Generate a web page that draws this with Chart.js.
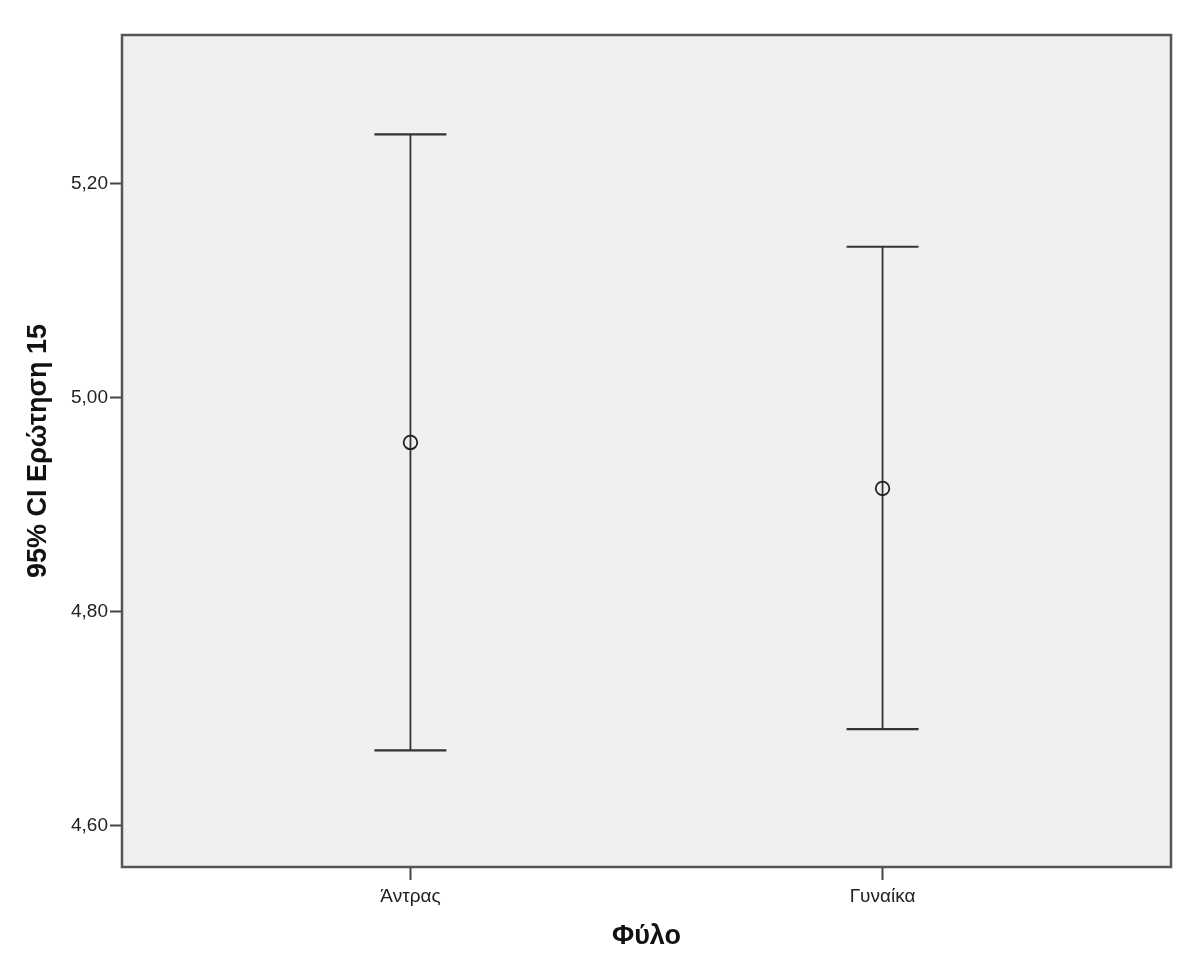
<!DOCTYPE html>
<html><head><meta charset="utf-8">
<script src="https://cdn.jsdelivr.net/npm/chart.js@4/dist/chart.umd.min.js"></script>
<style>html,body{margin:0;padding:0;background:#fff}#wrap{width:1200px;height:974px;position:relative}</style>
</head><body><div id="wrap"><canvas id="c"></canvas></div>
<script>
const categories = ['Άντρας', 'Γυναίκα'];
const means = [4.958, 4.915];
const lowerCI = [4.670, 4.690];
const upperCI = [5.246, 5.141];
const yTicks = [4.60, 4.80, 5.00, 5.20];
const yTitle = '95% CI Ερώτηση 15';
const xTitle = 'Φύλο';

const FONT = "'Liberation Sans', Arial, sans-serif";

const framePlugin = {
  id: 'frame',
  beforeDraw(chart) {
    const {ctx, chartArea: a} = chart;
    ctx.save();
    ctx.fillStyle = '#f0f0f0';
    ctx.fillRect(a.left, a.top, a.right - a.left, a.bottom - a.top);
    ctx.restore();
  },
  beforeDatasetsDraw(chart) {
    const {ctx} = chart;
    const xs = chart.scales.x, ys = chart.scales.y;
    ctx.save();
    ctx.strokeStyle = '#333';
    categories.forEach((c, i) => {
      const x = xs.getPixelForValue(i);
      const yl = ys.getPixelForValue(lowerCI[i]);
      const yu = ys.getPixelForValue(upperCI[i]);
      ctx.lineWidth = 1.8;
      ctx.beginPath();
      ctx.moveTo(x, yl); ctx.lineTo(x, yu);
      ctx.stroke();
      ctx.lineWidth = 2.2;
      ctx.beginPath();
      ctx.moveTo(x - 36, yu); ctx.lineTo(x + 36, yu);
      ctx.moveTo(x - 36, yl); ctx.lineTo(x + 36, yl);
      ctx.stroke();
    });
    ctx.restore();
  },
  afterDraw(chart) {
    const {ctx, chartArea: a} = chart;
    ctx.save();
    ctx.strokeStyle = '#555';
    ctx.lineWidth = 2.5;
    ctx.strokeRect(a.left, a.top, a.right - a.left, a.bottom - a.top);
    ctx.restore();
  }
};

new Chart(document.getElementById('c'), {
  type: 'scatter',
  data: {
    datasets: [{
      data: categories.map((c, i) => ({x: i, y: means[i]})),
      pointRadius: 6.8,
      pointHoverRadius: 6.8,
      pointBorderWidth: 1.8,
      pointBorderColor: '#222',
      pointBackgroundColor: 'rgba(0,0,0,0)',
      showLine: false
    }]
  },
  options: {
    responsive: true,
    maintainAspectRatio: false,
    animation: false,
    events: [],
    layout: {padding: {left: 0, top: 35, right: 29, bottom: 0}},
    plugins: {legend: {display: false}, tooltip: {enabled: false}},
    scales: {
      x: {
        type: 'linear',
        min: -0.611, max: 1.611,
        afterBuildTicks: s => { s.ticks = categories.map((c, i) => ({value: i})); },
        afterFit: s => { s.height = 107; },
        ticks: {
          callback: v => categories[v],
          font: {family: FONT, size: 19},
          color: '#222',
          padding: 5,
          maxRotation: 0,
          autoSkip: false
        },
        grid: {display: true, drawOnChartArea: false, drawTicks: true, tickLength: 13, tickWidth: 2, tickColor: '#444'},
        border: {display: false},
        title: {display: true, text: xTitle, font: {family: FONT, size: 27, weight: 'bold'}, color: '#111', padding: {top: 0, bottom: 21}}
      },
      y: {
        min: 4.561, max: 5.339,
        afterBuildTicks: s => { s.ticks = yTicks.map(v => ({value: v})); },
        afterFit: s => { s.width = 122; },
        ticks: {
          callback: v => v.toFixed(2).replace('.', ','),
          font: {family: FONT, size: 19},
          color: '#222',
          padding: 2,
          autoSkip: false
        },
        grid: {display: true, drawOnChartArea: false, drawTicks: true, tickLength: 12, tickWidth: 2, tickColor: '#444'},
        border: {display: false},
        title: {display: true, text: yTitle, font: {family: FONT, size: 27, weight: 'bold'}, color: '#111', padding: {top: 22, bottom: 0}}
      }
    }
  },
  plugins: [framePlugin]
});
</script>
</body></html>
